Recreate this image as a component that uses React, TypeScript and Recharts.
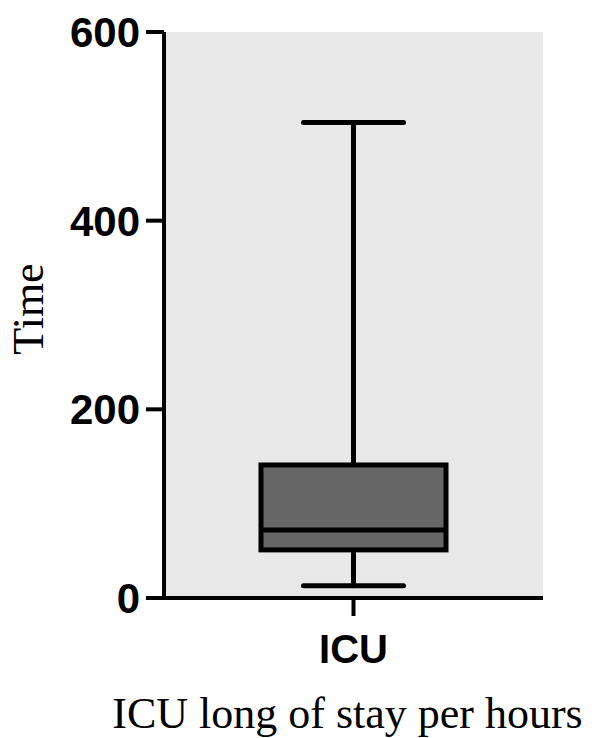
import { ComposedChart, Bar, XAxis, YAxis, CartesianGrid } from 'recharts'

const categories = ['ICU']
const minValues = [13]
const q1Values = [51]
const medianValues = [72]
const q3Values = [141]
const maxValues = [504]
const yTicks = [0, 200, 400, 600]

const data = categories.map((name, i) => ({
  name,
  min: minValues[i],
  q1: q1Values[i],
  median: medianValues[i],
  q3: q3Values[i],
  max: maxValues[i],
  range: [minValues[i], maxValues[i]],
}))

const BOX_W = 185
const CAP_W = 100

// the bar spans min..max, so pixel positions inside it come from the bar's own scale
function BoxShape(props: any) {
  const { x, y, width, height, payload } = props
  const span = payload.max - payload.min
  const toY = (v: number) => y + (height * (payload.max - v)) / span
  const cx = x + width / 2
  const bx = cx - BOX_W / 2
  return (
    <g stroke="#000" strokeWidth={5} strokeLinecap="round">
      <line x1={cx} x2={cx} y1={toY(payload.max)} y2={toY(payload.q3)} />
      <line x1={cx} x2={cx} y1={toY(payload.q1)} y2={toY(payload.min)} />
      <line x1={cx - CAP_W / 2} x2={cx + CAP_W / 2} y1={toY(payload.max)} y2={toY(payload.max)} />
      <line x1={cx - CAP_W / 2} x2={cx + CAP_W / 2} y1={toY(payload.min)} y2={toY(payload.min)} />
      <rect
        x={bx}
        y={toY(payload.q3)}
        width={BOX_W}
        height={toY(payload.q1) - toY(payload.q3)}
        fill="#666666"
        strokeLinecap="butt"
      />
      <line x1={bx} x2={bx + BOX_W} y1={toY(payload.median)} y2={toY(payload.median)} strokeLinecap="butt" />
    </g>
  )
}

const tickFont = { fontFamily: 'Liberation Sans, Arial, sans-serif', fontWeight: 700, fill: '#000' }

export default function App() {
  return (
    <div style={{ position: 'absolute', left: 0, top: 0, background: '#fff' }}>
      <ComposedChart
        width={600}
        height={738}
        data={data}
        margin={{ top: 32, right: 57, bottom: 0, left: 0 }}
      >
        <CartesianGrid fill="#e8e8e8" horizontal={false} vertical={false} />
        <XAxis
          dataKey="name"
          height={140}
          axisLine={{ stroke: '#000', strokeWidth: 4 }}
          tickLine={{ stroke: '#000', strokeWidth: 4 }}
          tickSize={18}
          tickMargin={19}
          tick={{ ...tickFont, fontSize: 40 }}
          label={{
            content: ({ viewBox }: any) => (
              <text
                x={viewBox.x + viewBox.width / 2 - 6}
                y={viewBox.y + 130}
                textAnchor="middle"
                fontFamily="Liberation Serif, Times New Roman, serif"
                fontSize={44}
                fill="#000"
              >
                ICU long of stay per hours
              </text>
            ),
          }}
        />
        <YAxis
          width={164}
          domain={[0, 600]}
          ticks={yTicks}
          interval={0}
          axisLine={{ stroke: '#000', strokeWidth: 4 }}
          tickLine={{ stroke: '#000', strokeWidth: 4 }}
          tickSize={18}
          tickMargin={6}
          tick={{ ...tickFont, fontSize: 42 }}
          label={{
            content: ({ viewBox }: any) => {
              const cx = 28
              const cy = viewBox.y + viewBox.height / 2 - 6
              return (
                <text
                  x={cx}
                  y={cy}
                  transform={`rotate(-90, ${cx}, ${cy})`}
                  textAnchor="middle"
                  dominantBaseline="central"
                  fontFamily="Liberation Serif, Times New Roman, serif"
                  fontSize={44}
                  fill="#000"
                >
                  Time
                </text>
              )
            },
          }}
        />
        <Bar dataKey="range" barSize={BOX_W} shape={<BoxShape />} isAnimationActive={false} />
      </ComposedChart>
    </div>
  )
}
